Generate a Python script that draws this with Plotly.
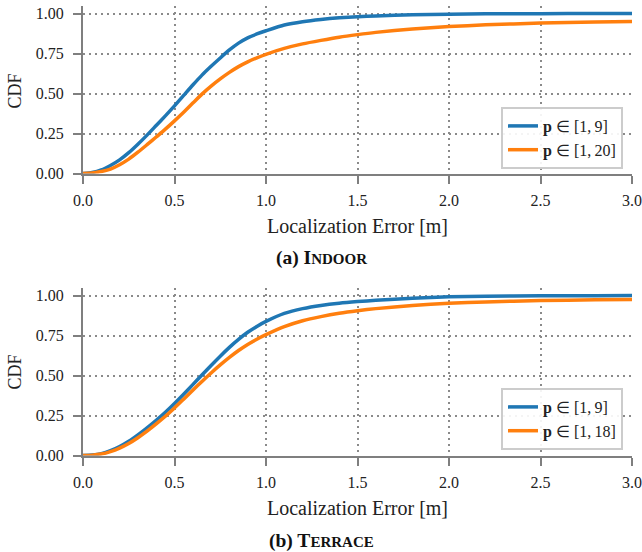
import plotly.graph_objects as go

# ---- data ----
error_m = [0.0, 0.05, 0.1, 0.15, 0.2, 0.25, 0.3, 0.35, 0.4, 0.45, 0.5, 0.55, 0.6, 0.65, 0.7,
           0.75, 0.8, 0.85, 0.9, 0.95, 1.0, 1.1, 1.2, 1.3, 1.4, 1.5, 1.6, 1.8, 2.0, 2.2, 2.5, 2.8, 3.0]

indoor_p9 = [0.0, 0.006, 0.022, 0.05, 0.085, 0.13, 0.183, 0.24, 0.30, 0.36, 0.423, 0.488, 0.553, 0.615, 0.67,
             0.722, 0.772, 0.815, 0.848, 0.872, 0.892, 0.928, 0.949, 0.963, 0.973, 0.98, 0.985, 0.992, 0.996, 0.998, 0.999, 1.0, 1.0]
indoor_p20 = [0.0, 0.003, 0.012, 0.028, 0.055, 0.09, 0.133, 0.18, 0.228, 0.277, 0.329, 0.383, 0.44, 0.496, 0.546,
              0.591, 0.632, 0.668, 0.698, 0.723, 0.745, 0.782, 0.81, 0.832, 0.852, 0.868, 0.882, 0.903, 0.918, 0.929, 0.94, 0.947, 0.95]

terrace_p9 = [0.0, 0.003, 0.012, 0.03, 0.056, 0.089, 0.129, 0.173, 0.22, 0.27, 0.325, 0.383, 0.443, 0.503, 0.563,
              0.621, 0.676, 0.726, 0.77, 0.807, 0.838, 0.888, 0.918, 0.938, 0.952, 0.962, 0.97, 0.983, 0.992, 0.996, 0.998, 0.999, 1.0]
terrace_p18 = [0.0, 0.002, 0.009, 0.024, 0.046, 0.075, 0.111, 0.152, 0.197, 0.245, 0.297, 0.352, 0.408, 0.463, 0.516,
               0.566, 0.613, 0.656, 0.694, 0.727, 0.755, 0.805, 0.842, 0.868, 0.889, 0.905, 0.918, 0.938, 0.952, 0.96, 0.968, 0.973, 0.975]

x_ticks = [0.0, 0.5, 1.0, 1.5, 2.0, 2.5, 3.0]
x_tick_labels = ["0.0", "0.5", "1.0", "1.5", "2.0", "2.5", "3.0"]
y_ticks = [0.0, 0.25, 0.5, 0.75, 1.0]
y_tick_labels = ["0.00", "0.25", "0.50", "0.75", "1.00"]

label_top = ["<b>p</b> \u2208 [1,\u20099]", "<b>p</b> \u2208 [1,\u200920]"]
label_bot = ["<b>p</b> \u2208 [1,\u20099]", "<b>p</b> \u2208 [1,\u200918]"]
x_title = "Localization Error [m]"
y_title = "CDF"
caption_top = "<b>(a) I<span style='font-size:15px'>NDOOR</span></b>"
caption_bot = "<b>(b) T<span style='font-size:15px'>ERRACE</span></b>"

BLUE = "#1f77b4"
ORANGE = "#ff7f0e"
FONT = "Liberation Serif"
SPINE = "#7f7f7f"
TXT = "#222222"

fig = go.Figure()
line_kw = dict(width=3.5, shape="spline", smoothing=0.6)
fig.add_trace(go.Scatter(x=error_m, y=indoor_p9, mode="lines", name=label_top[0],
                         line=dict(color=BLUE, **line_kw), xaxis="x", yaxis="y", legend="legend"))
fig.add_trace(go.Scatter(x=error_m, y=indoor_p20, mode="lines", name=label_top[1],
                         line=dict(color=ORANGE, **line_kw), xaxis="x", yaxis="y", legend="legend"))
fig.add_trace(go.Scatter(x=error_m, y=terrace_p9, mode="lines", name=label_bot[0],
                         line=dict(color=BLUE, **line_kw), xaxis="x2", yaxis="y2", legend="legend2"))
fig.add_trace(go.Scatter(x=error_m, y=terrace_p18, mode="lines", name=label_bot[1],
                         line=dict(color=ORANGE, **line_kw), xaxis="x2", yaxis="y2", legend="legend2"))

grid_kw = dict(showgrid=True, gridcolor="#8a8a8a", gridwidth=1.6, griddash="2px,4px")
spine_kw = dict(showline=True, linecolor=SPINE, linewidth=2, ticks="outside", ticklen=8,
                tickwidth=2, tickcolor=SPINE, zeroline=False, automargin=False,
                tickfont=dict(family=FONT, size=16, color=TXT))
xcommon = dict(range=[0, 3], tickvals=x_ticks, ticktext=x_tick_labels, ticklabelstandoff=3,
               **grid_kw, **spine_kw)
ycommon = dict(range=[0, 1.05], tickvals=y_ticks, ticktext=y_tick_labels, ticklabelstandoff=6,
               **grid_kw, **spine_kw)

H = 552.0
L = 83.0
PW = 549.0


def px_x(p):
    return (p - L) / PW


def px_y(p):
    return (H - p) / H


legend_kw = dict(xanchor="right", yanchor="bottom", bgcolor="rgba(255,255,255,0.9)",
                 bordercolor="#cccccc", borderwidth=2, font=dict(family=FONT, size=16, color=TXT))

ann = []
for cy_title, cy_cdf, cy_cap, cap in [(226, 91, 258, caption_top), (508, 372, 541, caption_bot)]:
    ann.append(dict(text=x_title, xref="paper", yref="paper", x=px_x(357.5), y=px_y(cy_title),
                    xanchor="center", yanchor="middle", showarrow=False,
                    font=dict(family=FONT, size=20, color=TXT)))
    ann.append(dict(text=y_title, xref="paper", yref="paper", x=px_x(14.5), y=px_y(cy_cdf),
                    xanchor="center", yanchor="middle", showarrow=False, textangle=-90,
                    font=dict(family=FONT, size=18, color=TXT)))
    ann.append(dict(text=cap, xref="paper", yref="paper", x=px_x(321), y=px_y(cy_cap),
                    xanchor="center", yanchor="middle", showarrow=False,
                    font=dict(family=FONT, size=19.5, color="#111111")))

fig.update_layout(
    width=642, height=552,
    margin=dict(l=83, r=10, t=0, b=0, autoexpand=False),
    paper_bgcolor="white", plot_bgcolor="white",
    showlegend=True,
    xaxis=dict(domain=[0, 1], anchor="y", **xcommon),
    yaxis=dict(domain=[px_y(173.5), px_y(5.5)], anchor="x", **ycommon),
    xaxis2=dict(domain=[0, 1], anchor="y2", **xcommon),
    yaxis2=dict(domain=[px_y(455.5), px_y(287.5)], anchor="x2", **ycommon),
    legend=dict(x=px_x(623), y=px_y(169), **legend_kw),
    legend2=dict(x=px_x(623), y=px_y(450), **legend_kw),
    annotations=ann,
)

fig.write_html("out.html", config={"displayModeBar": False},
               post_script="document.body.style.margin='0px';")
